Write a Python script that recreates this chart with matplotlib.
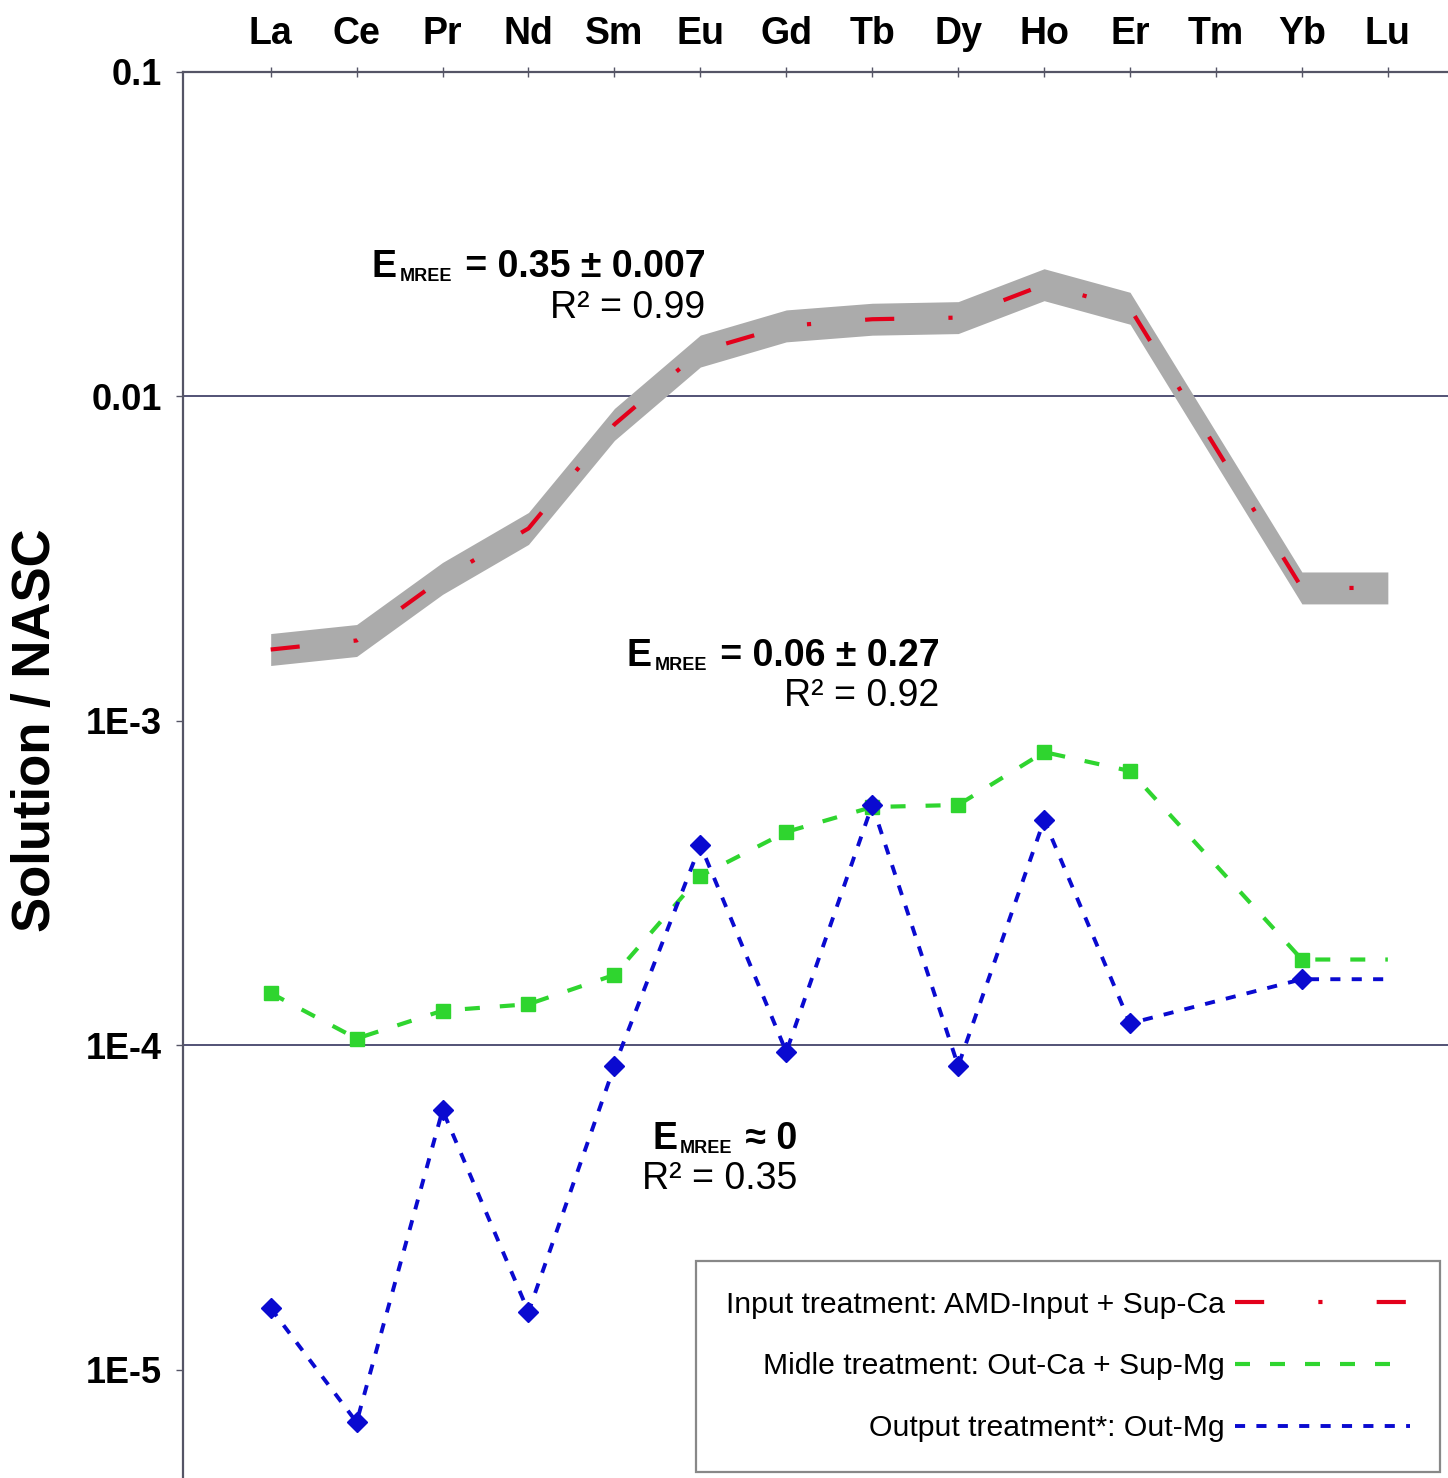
import matplotlib
matplotlib.use("Agg")
import matplotlib.pyplot as plt
import numpy as np
from matplotlib.offsetbox import TextArea, HPacker, VPacker, AnnotationBbox

plt.rcParams['font.family'] = ['Liberation Sans', 'DejaVu Sans']

elements = ["La", "Ce", "Pr", "Nd", "Sm", "Eu", "Gd", "Tb", "Dy", "Ho", "Er", "Tm", "Yb", "Lu"]

# Solution / NASC, no value for Tm
input_treat = [1.66e-3, 1.77e-3, 2.75e-3, 3.92e-3, 8.2e-3, 1.38e-2, 1.65e-2, 1.73e-2,
               1.75e-2, 2.21e-2, 1.87e-2, None, 2.57e-3, 2.57e-3]
band_factor = 1.12   # grey envelope around the input treatment (x / factor)
midle_treat = [1.45e-4, 1.05e-4, 1.28e-4, 1.34e-4, 1.65e-4, 3.33e-4, 4.55e-4, 5.43e-4,
               5.51e-4, 8.02e-4, 7.01e-4, None, 1.84e-4, 1.84e-4]
output_treat = [1.55e-5, 6.9e-6, 6.32e-5, 1.51e-5, 8.65e-5, 4.15e-4, 9.55e-5, 5.51e-4,
                8.65e-5, 4.95e-4, 1.17e-4, None, 1.60e-4, 1.60e-4]

labels = ["Input treatment: AMD-Input + Sup-Ca",
          "Midle treatment: Out-Ca + Sup-Mg",
          "Output treatment*: Out-Mg"]

ytick_vals = [0.1, 0.01, 1e-3, 1e-4, 1e-5]
ytick_text = ["0.1", "0.01", "1E-3", "1E-4", "1E-5"]


def present(vals):
    xs = [i for i, v in enumerate(vals) if v is not None]
    return xs, [vals[i] for i in xs]


def emree_label(ax, xy, rhs, r2, align="right"):
    e = TextArea("E", textprops=dict(fontsize=27, fontweight="bold"))
    sub = TextArea("MREE", textprops=dict(fontsize=13, fontweight="bold"))
    rest = TextArea(rhs, textprops=dict(fontsize=27, fontweight="bold"))
    top = HPacker(children=[e, sub, rest], align="bottom", pad=0, sep=2)
    bot = TextArea(r2, textprops=dict(fontsize=27))
    box = VPacker(children=[top, bot], align=align, pad=0, sep=3)
    ab = AnnotationBbox(box, xy, xycoords="data", box_alignment=(1, 1),
                        frameon=False, annotation_clip=False)
    ax.add_artist(ab)


fig = plt.figure(figsize=(14.48, 14.78), dpi=100)
ax = fig.add_axes([0.1264, 0.0, 0.8736, 0.9513])
ax.set_yscale("log")

# horizontal reference lines
for yv in [0.01, 1e-4]:
    ax.axhline(yv, color="#44446a", lw=1.3, zorder=0.5)

xr, yr = present(input_treat)
yr = np.array(yr)
ax.fill_between(xr, yr / band_factor, yr * band_factor, color="#ababab", lw=0, zorder=1)
ax.plot(xr, yr, color="#e3001b", lw=3, dashes=(7, 13, 1, 13), zorder=3,
        label=labels[0])

xg, yg = present(midle_treat)
ax.plot(xg, yg, color="#2fd52f", lw=3, dashes=(3.6, 4.8), zorder=3, label=labels[1])
ax.plot(xg[:-1], yg[:-1], ls="none", marker="s", ms=10, color="#2fd52f", zorder=4)

xb, yb = present(output_treat)
ax.plot(xb, yb, color="#0a0ad0", lw=2.8, dashes=(2.6, 2.9), zorder=3, label=labels[2])
ax.plot(xb[:-1], yb[:-1], ls="none", marker="D", ms=10, color="#0a0ad0", zorder=4)

ax.set_xlim(-1.02, 13.7)
ax.set_ylim(10 ** -5.333, 0.1)

ax.set_xticks(range(len(elements)))
ax.set_xticklabels(elements, fontsize=27, fontweight="bold")
ax.xaxis.tick_top()
ax.tick_params(axis="x", direction="inout", length=7, width=1, color="#555566", pad=11)

ax.set_yticks(ytick_vals)
ax.set_yticklabels(ytick_text, fontsize=26, fontweight="bold")
ax.yaxis.set_minor_locator(matplotlib.ticker.NullLocator())
ax.tick_params(axis="y", direction="out", length=5, width=1, color="#555566", pad=10)

for side in ["bottom", "right"]:
    ax.spines[side].set_visible(False)
for side in ["left", "top"]:
    ax.spines[side].set_color("#555566")
    ax.spines[side].set_linewidth(1.6)

fig.text(36 / 1448, 1 - 730 / 1478, "Solution / NASC", fontsize=38, fontweight="bold",
         rotation=90, ha="center", va="center")

emree_label(ax, (5.06, 0.0284), " = 0.35 ± 0.007", "R² = 0.99")
emree_label(ax, (7.78, 1.80e-3), " = 0.06 ± 0.27", "R² = 0.92")
emree_label(ax, (6.13, 5.85e-5), " ≈ 0", "R² = 0.35")

leg = ax.legend(loc="lower right", bbox_to_anchor=(0.994, 0.004), borderaxespad=0,
                markerfirst=False, fontsize=21.7, handlelength=5.8, handletextpad=0.35,
                labelspacing=1.12, borderpad=1.0, fancybox=False, framealpha=1)
leg.get_frame().set_edgecolor("#888888")
leg.get_frame().set_linewidth(1.6)

fig.savefig("out.png", dpi=100)
